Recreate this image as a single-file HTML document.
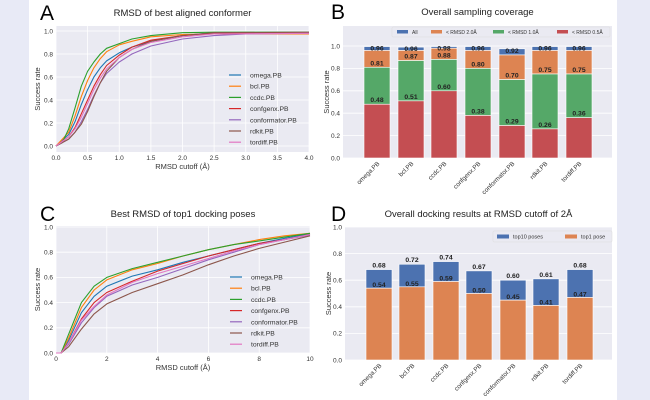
<!DOCTYPE html>
<html><head><meta charset="utf-8"><style>
body{margin:0;background:#fff}
svg{display:block;font-family:"Liberation Sans",sans-serif}
</style></head><body>
<svg id="s" width="650" height="400" viewBox="0 0 650 400" xmlns="http://www.w3.org/2000/svg">
<rect width="650" height="400" fill="#fff"/>
<rect x="0" y="0" width="29" height="400" fill="#e8eaf6"/>
<rect x="617" y="0" width="33" height="400" fill="#e8eaf6"/>
<g id="g"></g>
</svg>
<script>
let out="";
const C7=["#1f77b4","#ff7f0e","#2ca02c","#d62728","#9467bd","#8c564b","#e377c2"];
const names=["omega.PB","bcl.PB","ccdc.PB","confgenx.PB","conformator.PB","rdkit.PB","tordiff.PB"];
function t(x,y,s,o){o=o||{};out+=`<text x="${x}" y="${y}" font-size="${o.fs||7}" fill="${o.c||'#333'}" text-anchor="${o.a||'middle'}" ${o.w?'font-weight="bold"':''} ${o.tr?`transform="${o.tr}"`:''}>${s}</text>`;}
function lineplot(X0,X1,Y0,Y1,top,bot,xmax,xticks,xfmt,data,title,tY,letter){
 out+=`<rect x="${X0}" y="${Y0}" width="${X1-X0}" height="${Y1-Y0}" fill="#eaeaf2"/>`;
 const sx=v=>X0+(X1-X0)*v/xmax, sy=v=>bot+(top-bot)*v;
 for(const v of xticks){out+=`<line x1="${sx(v)}" x2="${sx(v)}" y1="${Y0}" y2="${Y1}" stroke="#fff" stroke-width="0.8"/>`;t(sx(v),Y1+8,xfmt(v),{fs:6.5});}
 for(let v=0;v<=1.001;v+=0.2){out+=`<line x1="${X0}" x2="${X1}" y1="${sy(v)}" y2="${sy(v)}" stroke="#fff" stroke-width="0.8"/>`;t(X0-3,sy(v)+2.3,v.toFixed(1),{fs:6.5,a:'end'});}
 data.forEach((d,i)=>{let p=[];for(let k=0;k<d.length;k+=2)p.push(sx(d[k]).toFixed(1)+","+sy(d[k+1]).toFixed(1));
  out+=`<polyline points="${p.join(' ')}" fill="none" stroke="${C7[i]}" stroke-width="1.1" stroke-linejoin="round"/>`;});
 t((X0+X1)/2,tY,title,{fs:9.5,c:'#222'});
 t(X0-16,(Y0+Y1)/2,"Success rate",{fs:7.5,tr:`rotate(-90 ${X0-16} ${(Y0+Y1)/2})`});
 t((X0+X1)/2,Y1+17,"RMSD cutoff (Å)",{fs:7.5});
 t(40,tY+4,letter,{fs:21,c:'#000',a:'start'});
}
function legend(x,y){names.forEach((n,i)=>{const yy=y+i*11.2;out+=`<line x1="${x}" x2="${x+12}" y1="${yy}" y2="${yy}" stroke="${C7[i]}" stroke-width="1.2"/>`;t(x+21,yy+2.5,n,{fs:6.8,a:'start'});});}
const A=[
[0,0,.2,.10,.3,.21,.4,.36,.5,.49,.6,.60,.7,.68,.8,.74,1,.81,1.2,.86,1.5,.91,2,.96,2.5,.985,4,.99],
[0,0,.2,.12,.3,.26,.4,.43,.5,.57,.6,.68,.7,.76,.8,.82,1,.88,1.2,.91,1.5,.95,2,.97,2.5,.975,4,.975],
[0,0,.1,.03,.2,.15,.3,.33,.4,.52,.5,.65,.6,.73,.7,.80,.8,.85,1,.89,1.2,.93,1.5,.96,2,.985,2.5,.99,4,.99],
[0,0,.2,.08,.3,.16,.4,.28,.5,.40,.6,.52,.7,.62,.8,.70,1,.79,1.2,.86,1.5,.92,2,.96,2.5,.98,4,.985],
[0,0,.2,.06,.3,.12,.4,.21,.5,.32,.6,.44,.7,.55,.8,.63,1,.73,1.2,.80,1.5,.87,2,.93,2.5,.96,3,.975,4,.98],
[0,0,.2,.06,.3,.12,.4,.19,.5,.30,.6,.43,.7,.55,.8,.65,1,.77,1.2,.84,1.5,.91,2,.96,2.5,.985,4,.99],
[0,0,.2,.08,.3,.15,.4,.25,.5,.37,.6,.49,.7,.59,.8,.67,1,.77,1.2,.84,1.5,.90,2,.95,2.5,.975,4,.98]];
lineplot(56,309,26,152,31,146,4,[0,.5,1,1.5,2,2.5,3,3.5,4],v=>v.toFixed(1),A,"RMSD of best aligned conformer",16,"A");
legend(229,75);
const Cd=[
[0,0,.2,0,.5,.10,1,.32,1.5,.45,2,.53,3,.61,4,.66,5,.72,6,.77,7,.82,8,.87,9,.91,10,.945],
[0,0,.2,0,.5,.12,1,.36,1.5,.50,2,.58,3,.66,4,.71,5,.77,6,.82,7,.86,8,.90,9,.93,10,.95],
[0,0,.2,0,.5,.15,1,.40,1.5,.53,2,.60,3,.67,4,.72,5,.77,6,.82,7,.86,8,.89,9,.92,10,.95],
[0,0,.2,0,.5,.08,1,.27,1.5,.40,2,.48,3,.57,4,.65,5,.71,6,.77,7,.82,8,.87,9,.90,10,.94],
[0,0,.2,0,.5,.07,1,.24,1.5,.36,2,.45,3,.54,4,.60,5,.67,6,.74,7,.80,8,.86,9,.90,10,.935],
[0,0,.2,0,.5,.05,1,.19,1.5,.31,2,.39,3,.48,4,.55,5,.62,6,.70,7,.77,8,.83,9,.88,10,.93],
[0,0,.2,0,.5,.08,1,.26,1.5,.37,2,.46,3,.56,4,.63,5,.69,6,.75,7,.81,8,.86,9,.90,10,.94]];
lineplot(56,310,226,353,227,353,10,[0,2,4,6,8,10],v=>v,Cd,"Best RMSD of top1 docking poses",217,"C");
legend(230,277);
function barplot(X0,X1,Y0,Y1,bot,top,ymax,centers,w,stacks,cols,title,tY,letter){
 out+=`<rect x="${X0}" y="${Y0}" width="${X1-X0}" height="${Y1-Y0}" fill="#eaeaf2"/>`;
 const sy=v=>bot+(top-bot)*v;
 for(let v=0;v<=ymax+0.001;v+=0.2){if(sy(v)<Y0-1)continue;out+=`<line x1="${X0}" x2="${X1}" y1="${sy(v)}" y2="${sy(v)}" stroke="#fff" stroke-width="0.8"/>`;t(X0-3,sy(v)+2.3,v.toFixed(1),{fs:6.5,a:'end'});}
 centers.forEach((c,i)=>{
  stacks.forEach((s,j)=>{const hi=s[i],lo=j<stacks.length-1?stacks[j+1][i]:0;
   out+=`<rect x="${c-w/2}" y="${sy(hi)}" width="${w}" height="${sy(lo)-sy(hi)}" fill="${cols[j]}" stroke="#fff" stroke-width="0.6"/>`;});
  const tx=c+3,ty=Y1+6;t(tx,ty,names[i],{fs:6.3,a:'end',tr:`rotate(-45 ${tx} ${ty})`});
 });
 t((X0+X1)/2,tY,title,{fs:9.5,c:'#222'});
 t(X0-14,(Y0+Y1)/2,"Success rate",{fs:7.5,tr:`rotate(-90 ${X0-14} ${(Y0+Y1)/2})`});
 t(331,tY+4,letter,{fs:21,c:'#000',a:'start'});
 return sy;
}
const cB=[377,411,444,478,512,545,579];
const red=[.48,.51,.60,.38,.29,.26,.36],grn=[.81,.87,.88,.80,.70,.75,.75],org=[.96,.96,.98,.96,.92,.96,.96],blu=[.995,.99,.995,.995,.975,.995,.995];
let sy=barplot(343,612,26,158,158,46,1.0,cB,26,[blu,org,grn,red],["#4c72b0","#dd8452","#55a868","#c44e52"],"Overall sampling coverage",15,"B");
cB.forEach((c,i)=>{t(c,sy(blu[i])+4,org[i].toFixed(2),{fs:6.8,w:1,c:'#222'});t(c,sy(grn[i])-2,grn[i].toFixed(2),{fs:6.8,w:1,c:'#222'});t(c,sy(red[i])-2,red[i].toFixed(2),{fs:6.8,w:1,c:'#222'});});
out+=`<rect x="392" y="27" width="218" height="10" fill="#eaeaf2" stroke="#ddd" stroke-width="0.5" rx="1"/>`;
[[397,"All","#4c72b0"],[431,"&lt; RMSD 2.0Å","#dd8452"],[493,"&lt; RMSD 1.0Å","#55a868"],[557,"&lt; RMSD 0.5Å","#c44e52"]].forEach(e=>{out+=`<rect x="${e[0]}" y="30" width="11" height="3.5" fill="${e[2]}"/>`;t(e[0]+15,34,e[1],{fs:5,a:'start'});});
const cD=[379,412,446,479,513,546,580];
const t10=[.68,.72,.74,.67,.60,.61,.68],t1=[.54,.55,.59,.50,.45,.41,.47];
sy=barplot(345,612,227,360,360,227,1.0,cD,26,[t10,t1],["#4c72b0","#dd8452"],"Overall docking results at RMSD cutoff of 2Å",217,"D");
cD.forEach((c,i)=>{t(c,sy(t10[i])-2,t10[i].toFixed(2),{fs:6.8,w:1,c:'#222'});t(c,sy(t1[i])-1,t1[i].toFixed(2),{fs:6.8,w:1,c:'#222'});});
out+=`<rect x="493" y="231" width="119" height="11" fill="#eaeaf2" stroke="#ddd" stroke-width="0.5" rx="1"/>`;
[[497,"top10 poses","#4c72b0"],[565,"top1 pose","#dd8452"]].forEach(e=>{out+=`<rect x="${e[0]}" y="234.5" width="12" height="4" fill="${e[2]}"/>`;t(e[0]+16,238.7,e[1],{fs:5.5,a:'start'});});
document.getElementById("g").innerHTML=out;
</script>
</body></html>
